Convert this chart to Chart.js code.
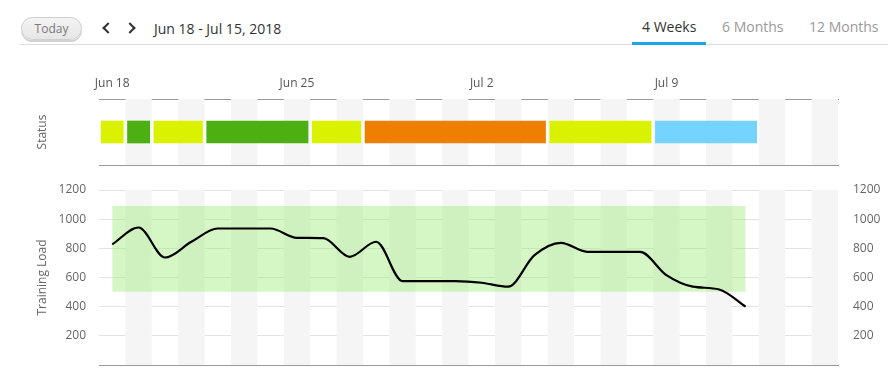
<!DOCTYPE html>
<html>
<head>
<meta charset="utf-8">
<script src="https://cdn.jsdelivr.net/npm/chart.js@4.4.0/dist/chart.umd.min.js"></script>
<style>
  body { margin: 0; background: #fff; font-family: "Open Sans", sans-serif; width: 892px; height: 377px; overflow: hidden; position: relative; }
  .hdr { position: absolute; left: 20px; top: 44px; width: 868px; height: 1px; background: #dcdcdc; }
  .today { position: absolute; left: 21px; top: 17px; width: 59px; height: 21px; border: 1px solid #cfcfcf; border-radius: 12px;
    background: linear-gradient(#f4f4f4, #e6e6e6); box-shadow: 0 2px 0 #d2d2d2; color: #7a7a7a; font-size: 12px; line-height: 21px; text-align: center; }
  .chev { position: absolute; top: 24px; width: 6px; height: 6px; border-left: 2.5px solid #333; border-bottom: 2.5px solid #333; }
  .chev.l { left: 104px; transform: rotate(45deg); }
  .chev.r { left: 126px; transform: rotate(-135deg); }
  .range { position: absolute; left: 154px; top: 19px; font-size: 14px; color: #333; }
  .tab { position: absolute; top: 17px; font-size: 14px; color: #999; }
  .tab.on { color: #333; }
  .uline { position: absolute; left: 632px; top: 42px; width: 74px; height: 3px; background: #1aa6e8; }
  canvas { position: absolute; left: 0; }
</style>
</head>
<body>
<div class="today">Today</div>
<div class="chev l"></div>
<div class="chev r"></div>
<div class="range">Jun 18 - Jul 15, 2018</div>
<div class="tab on" style="left:642px">4 Weeks</div>
<div class="tab" style="left:722px">6 Months</div>
<div class="tab" style="left:809px">12 Months</div>
<div class="hdr"></div>
<div class="uline"></div>
<canvas id="statusChart" style="top:60px" width="892" height="112"></canvas>
<canvas id="loadChart" style="top:172px" width="892" height="200"></canvas>
<script>
// 28 days, Jun 18 .. Jul 15 2018, day 0 = Jun 18
var dayCount = 28
var weekLabels = ['Jun 18', 'Jun 25', 'Jul 2', 'Jul 9']
var weekDays = [0, 7, 14, 21]

// status segments (first day, last day inclusive)
var statusStart = [0, 1, 2, 4, 8, 10, 17, 21]
var statusEnd = [0, 1, 3, 7, 9, 16, 20, 24]
var statusColor = ['#daf200', '#4caf12', '#daf200', '#4caf12', '#daf200', '#ef7f00', '#daf200', '#75d4ff']

// training load, one value per day
var loadValues = [827, 943, 737, 845, 936, 936, 936, 872, 870, 742, 845, 575, 575, 575, 564, 537,
  753, 838, 776, 776, 776, 616, 537, 518, 400]
var rangeLow = 502
var rangeHigh = 1090
var rangeFirstDay = 0
var rangeLastDay = 24

Chart.defaults.font.family = '"Open Sans", sans-serif'
Chart.defaults.font.size = 12
Chart.defaults.color = '#666'
Chart.defaults.animation = false

// every other day shaded grey
var dayStripes = {
  id: 'dayStripes',
  beforeDatasetsDraw(chart) {
    var ctx = chart.ctx, a = chart.chartArea, x = chart.scales.x
    ctx.save()
    ctx.fillStyle = '#f5f5f5'
    for (var d = 1; d < dayCount; d += 2) {
      var x0 = x.getPixelForValue(d), x1 = x.getPixelForValue(d + 1)
      ctx.fillRect(x0, a.top, x1 - x0, a.bottom - a.top)
    }
    ctx.restore()
  }
}

var statusBars = statusStart.map((s, i) => ({ x: [s + 0.08, statusEnd[i] + 1 - 0.08], y: 'Status' }))

new Chart(document.getElementById('statusChart'), {
  type: 'bar',
  plugins: [dayStripes],
  data: {
    labels: ['Status'],
    datasets: [{
      data: statusBars,
      backgroundColor: statusColor,
      barThickness: 22,
      borderSkipped: false
    }]
  },
  options: {
    indexAxis: 'y',
    responsive: false,
    layout: { padding: { left: 31, right: 54, top: 0, bottom: 7 } },
    plugins: { legend: { display: false }, tooltip: { enabled: false } },
    scales: {
      x: {
        type: 'linear', position: 'top', min: 0, max: dayCount,
        afterBuildTicks: s => { s.ticks = weekDays.map(d => ({ value: d + 0.5 })) },
        ticks: { callback: (v) => weekLabels[weekDays.indexOf(v - 0.5)], padding: 0, color: '#555', maxRotation: 0, autoSkip: false },
        grid: { display: false },
        border: { color: '#9a9a9a' },
        afterFit: s => { s.height = 39 }
      },
      x2: {
        type: 'linear', position: 'bottom', min: 0, max: dayCount,
        ticks: { display: false },
        grid: { display: false },
        border: { color: '#9a9a9a' },
        afterFit: s => { s.height = 0 }
      },
      y: {
        ticks: { display: false },
        grid: { display: false },
        border: { display: false },
        title: { display: true, text: 'Status', color: '#666', font: { size: 12 } },
        afterFit: s => { s.width = 68 }
      }
    }
  }
})

var loadPoints = loadValues.map((v, i) => ({ x: i + 0.5, y: v }))

var yTicks = {
  stepSize: 100,
  callback: v => (v > 0 && v % 200 === 0) ? v : ''
}
function fitY(width) {
  return s => { s.width = width; s.paddingTop = 0; s.paddingBottom = 0 }
}

new Chart(document.getElementById('loadChart'), {
  type: 'line',
  plugins: [dayStripes],
  data: {
    datasets: [{
      data: [{ x: rangeFirstDay + 0.5, y: rangeHigh }, { x: rangeLastDay + 0.5, y: rangeHigh }],
      borderWidth: 0, pointRadius: 0, fill: false, order: 2
    }, {
      data: [{ x: rangeFirstDay + 0.5, y: rangeLow }, { x: rangeLastDay + 0.5, y: rangeLow }],
      borderWidth: 0, pointRadius: 0, fill: '-1', backgroundColor: 'rgba(150, 235, 110, 0.4)', order: 2
    }, {
      data: loadPoints,
      borderColor: '#000', borderWidth: 2.2, pointRadius: 0,
      cubicInterpolationMode: 'monotone', fill: false, order: 1
    }]
  },
  options: {
    responsive: false,
    layout: { padding: { left: 31, right: 0, top: 18, bottom: 7 } },
    plugins: { legend: { display: false }, tooltip: { enabled: false } },
    scales: {
      x: {
        type: 'linear', min: 0, max: dayCount,
        ticks: { display: false },
        grid: { display: false },
        border: { color: '#9a9a9a' },
        afterFit: s => { s.height = 0 }
      },
      y: {
        min: 0, max: 1200, position: 'left',
        ticks: Object.assign({ padding: 13, color: '#666' }, yTicks),
        grid: { drawTicks: false, color: c => c.tick.value % 200 === 0 ? '#e3e3e3' : '#f0f0f0' },
        border: { display: false },
        title: { display: true, text: 'Training Load', color: '#666', font: { size: 12 } },
        afterFit: fitY(68)
      },
      y2: {
        min: 0, max: 1200, position: 'right',
        ticks: Object.assign({ padding: 15, color: '#666' }, yTicks),
        grid: { display: false, drawTicks: false },
        border: { display: false },
        afterFit: fitY(54)
      }
    }
  }
})
</script>
</body>
</html>
